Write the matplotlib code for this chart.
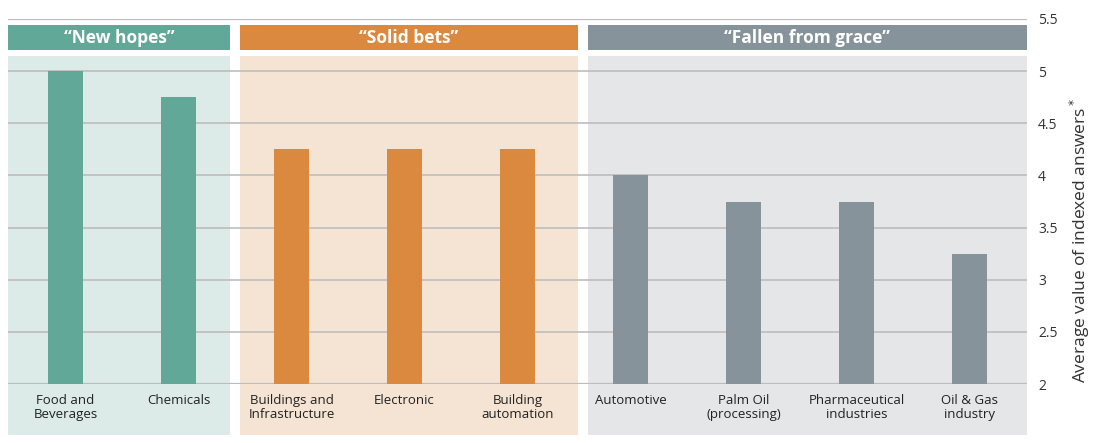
import matplotlib.pyplot as plt
from matplotlib.patches import Rectangle

# data
categories = ["Food and\nBeverages", "Chemicals",
              "Buildings and\nInfrastructure", "Electronic", "Building\nautomation",
              "Automotive", "Palm Oil\n(processing)", "Pharmaceutical\nindustries",
              "Oil & Gas\nindustry"]
values = [5.0, 4.75, 4.25, 4.25, 4.25, 4.0, 3.75, 3.75, 3.25]
group_of = [0, 0, 1, 1, 1, 2, 2, 2, 2]
group_names = ["\u201cNew hopes\u201d", "\u201cSolid bets\u201d", "\u201cFallen from grace\u201d"]
yticks = [2, 2.5, 3, 3.5, 4, 4.5, 5, 5.5]
ytick_labels = ["2", "2.5", "3", "3.5", "4", "4.5", "5", "5.5"]

dark = ["#62a899", "#db893e", "#87939a"]
light = ["#dcebe7", "#f5e4d3", "#e5e6e8"]
# panel spans in category units
spans = [(-0.51, 1.456), (1.544, 4.535), (4.624, 8.51)]

plt.rcParams['font.family'] = ['Open Sans', 'DejaVu Sans']

fig = plt.figure(figsize=(10.94, 4.43), dpi=100)
ax = fig.add_axes([8/1094, 59/443, 1019/1094, 365/443])
ax.set_xlim(-0.51, 8.51)
ax.set_ylim(2, 5.5)

for g, (x0, x1) in enumerate(spans):
    ax.add_patch(Rectangle((x0, 1.511), x1 - x0, 5.145 - 1.511, facecolor=light[g],
                           edgecolor='none', clip_on=False, zorder=0))
    ax.add_patch(Rectangle((x0, 5.203), x1 - x0, 5.442 - 5.203, facecolor=dark[g],
                           edgecolor='none', clip_on=False, zorder=3))
    ax.text((x0 + x1) / 2, 5.32, group_names[g], ha='center', va='center',
            color='white', fontsize=12.5, fontweight='bold', zorder=4)

for y in yticks:
    ax.axhline(y, color='#bdbdbd', lw=1.6 if y in (2, 5.5) else 1.2, zorder=1)

xs = list(range(len(values)))
ax.bar(xs, [v - 2 for v in values], bottom=2, width=0.31,
       color=[dark[g] for g in group_of], zorder=2)

for s in ax.spines.values():
    s.set_visible(False)
ax.set_facecolor('none')

ax.set_xticks(xs)
ax.set_xticklabels(categories, fontsize=9.5, color='#222222', linespacing=1.15)
ax.tick_params(axis='x', length=0, pad=7)

ax.yaxis.tick_right()
ax.set_yticks(yticks)
ax.set_yticklabels(ytick_labels, fontsize=10, color='#333333')
ax.tick_params(axis='y', length=0, pad=8)

fig.text(1080/1094, 1 - 240/443, "Average value of indexed answers$^*$", rotation=90,
         ha='center', va='center', fontsize=12.5, color='#333333')

fig.savefig('out.png', dpi=100)
